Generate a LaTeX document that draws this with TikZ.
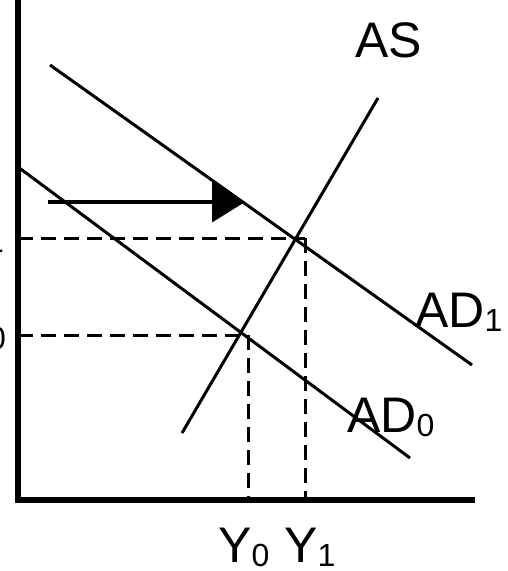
\documentclass[tikz,border=0pt]{standalone}
\usepackage{fontspec}
\setmainfont{Liberation Sans}
\usetikzlibrary{arrows.meta}
\newcommand\mysub[2]{#1\raisebox{-4pt}{\fontsize{32}{32}\selectfont #2}}
\begin{document}
\begin{tikzpicture}[x=1pt,y=-1pt,
  axisline/.style={line width=5.5pt, line join=miter},
  curve/.style={line width=3pt},
  guide/.style={line width=3pt, dash pattern=on 15pt off 8pt},
  lbl/.style={inner sep=0pt, font=\fontsize{50}{50}\selectfont}]
\useasboundingbox (0,0) rectangle (508,571);
% axes
\coordinate (top) at (18,-5);
\coordinate (origin) at (18,500);
\coordinate (xend) at (475,500);
\draw[axisline] (top) -- (origin) -- (xend);
% curves
\coordinate (ad1a) at (50,65);
\coordinate (ad1b) at (472,365);
\coordinate (ad0a) at (18,167);
\coordinate (ad0b) at (410,458);
\coordinate (asa) at (182,433);
\coordinate (asb) at (378,98);
\draw[curve] (ad1a) -- (ad1b);
\draw[curve] (ad0a) -- (ad0b);
\draw[curve] (asa) -- (asb);
% shift arrow
\coordinate (arra) at (48,202);
\coordinate (arrb) at (245,202);
\draw[line width=4pt, -{Triangle[length=33pt,width=40pt]}] (arra) -- (arrb);
% dashed guides
\coordinate (p1l) at (18,238);
\coordinate (e1) at (305,238);
\coordinate (y1b) at (305,500);
\coordinate (p0l) at (18,335);
\coordinate (e0) at (248,335);
\coordinate (y0b) at (248,500);
\draw[guide] (p1l) -- (e1);
\draw[guide] (e1) -- (y1b);
\draw[guide] (p0l) -- (e0);
\draw[guide] (e0) -- (y0b);
% labels
\node[lbl, anchor=base west] (lAS) at (355,57) {AS};
\node[lbl, anchor=base west] (lAD1) at (415,327) {\mysub{AD}{1}};
\node[lbl, anchor=base west] (lAD0) at (347,432) {\mysub{AD}{0}};
\node[lbl, anchor=base west] (lY0) at (218,562) {\mysub{Y}{0}};
\node[lbl, anchor=base west] (lY1) at (284,562) {\mysub{Y}{1}};
\node[lbl, anchor=base east] (lP1) at (4,248) {\mysub{P}{1}};
\node[lbl, anchor=base east] (lP0) at (6,345) {\mysub{P}{0}};
\end{tikzpicture}
\end{document}
